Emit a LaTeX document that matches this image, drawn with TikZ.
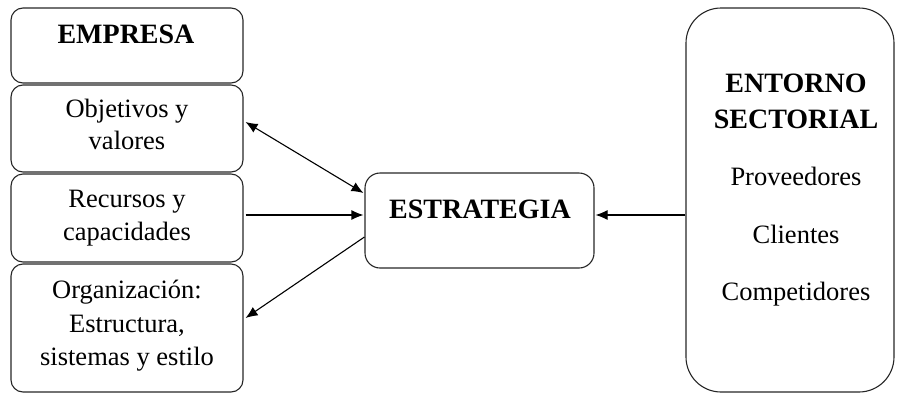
\documentclass[tikz,border=0pt]{standalone}
\usepackage{fontspec}
\setmainfont{Liberation Serif}
\usetikzlibrary{arrows.meta,calc}
\begin{document}
\begin{tikzpicture}[x=1pt,y=-1pt,
 box/.style={draw=black!85, line width=1.1pt, rounded corners=12pt, inner sep=0pt, minimum width=232pt},
 txt/.style={anchor=base, inner sep=0pt, font=\fontsize{26.5}{32}\selectfont},
 btxt/.style={anchor=base, inner sep=0pt, font=\fontsize{28}{32}\selectfont\bfseries},
 conn/.style={line width=1.1pt, -{Latex[length=12pt,width=10pt]}},
 biconn/.style={line width=1.1pt, {Latex[length=12pt,width=10pt]}-{Latex[length=12pt,width=10pt]}},
]
\useasboundingbox (0,0) rectangle (897,394);
% boxes
\node[box, minimum height=75pt] (empresa) at (127,45.5) {};
\node[box, minimum height=87pt] (objetivos) at (127,128.5) {};
\node[box, minimum height=88pt] (recursos) at (127,218) {};
\node[box, minimum height=128pt] (organizacion) at (127,328) {};
\node[box, minimum width=229pt, minimum height=95pt, rounded corners=15pt] (estrategia) at (479.5,220.5) {};
\node[box, minimum width=208pt, minimum height=384pt, rounded corners=35pt] (entorno) at (790,200) {};
% texts
\node[btxt] (tEmpresa) at (126,43) {EMPRESA};
\node[txt] (tObj1) at (127,117) {Objetivos y};
\node[txt] (tObj2) at (127,149) {valores};
\node[txt] (tRec1) at (127,207) {Recursos y};
\node[txt] (tRec2) at (127,240) {capacidades};
\node[txt] (tOrg1) at (127,298) {Organización:};
\node[txt] (tOrg2) at (127,332) {Estructura,};
\node[txt] (tOrg3) at (127,365) {sistemas y estilo};
\node[btxt] (tEst) at (480,218) {ESTRATEGIA};
\node[btxt] (tEnt1) at (796,92) {ENTORNO};
\node[btxt] (tEnt2) at (796,128) {SECTORIAL};
\node[txt] (tProv) at (796,185) {Proveedores};
\node[txt] (tCli) at (796,243) {Clientes};
\node[txt] (tComp) at (796,300) {Competidores};
% connectors
\draw[biconn] ($(objetivos.east)+(2,-6.5)$) -- ($(estrategia.west)+(-1,-27.5)$);
\draw[conn] ($(recursos.east)+(2,-3)$) -- ($(estrategia.west)+(-1,-5.5)$);
\draw[conn] ($(estrategia.west)+(0,16.5)$) -- ($(organizacion.east)+(2,-10)$);
\draw[conn] ($(entorno.west)+(0,15)$) -- ($(estrategia.east)+(1,-5.5)$);
\end{tikzpicture}
\end{document}
